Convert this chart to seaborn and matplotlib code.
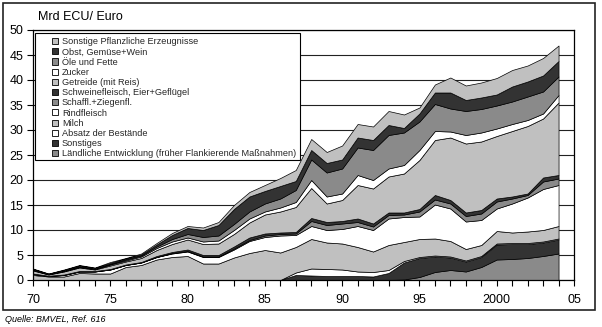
import matplotlib
matplotlib.use("Agg")
import matplotlib.pyplot as plt
import seaborn as sns
from matplotlib.patches import Patch, Rectangle

years = list(range(1970, 2005))

laendliche = [0]*24 + [0.1, 0.6, 1.6, 2.0, 1.7, 2.6, 4.1, 4.2, 4.4, 4.8, 5.3]
sonstiges = [0]*17 + [1.0, 0.9, 0.8, 0.8, 0.8, 0.7, 1.4, 3.4, 3.8, 3.1, 2.5, 2.0, 2.0, 3.0, 3.0, 2.8, 2.7, 2.8]
absatz = [0]*17 + [0.5, 1.4, 1.4, 1.3, 0.9, 0.9, 0.6, 0.3, 0.2, 0.2, 0.2, 0.2, 0.2, 0.2, 0.2, 0.2, 0.2, 0.2]
milch = [1.0, 0.7, 0.7, 1.4, 1.3, 1.3, 2.6, 3.0, 4.1, 4.6, 4.8, 3.3, 3.3, 4.5, 5.4, 6.0, 5.5, 5.1,
         5.9, 5.3, 5.2, 4.9, 4.1, 5.0, 3.8, 3.6, 3.4, 3.1, 2.3, 2.2, 2.5, 2.1, 2.3, 2.3, 2.5]
rindfleisch = [0.2, 0.1, 0.3, 0.3, 0.4, 0.8, 0.4, 0.5, 0.5, 0.7, 0.9, 1.3, 1.3, 1.6, 2.4, 2.6, 3.4, 2.4,
               2.6, 2.5, 2.9, 4.2, 4.3, 5.3, 5.0, 4.5, 6.8, 6.5, 5.5, 5.0, 4.5, 5.8, 6.8, 8.2, 8.2]
schaffl = [0, 0, 0, 0, 0, 0, 0, 0, 0, 0.1, 0.1, 0.1, 0.1, 0.2, 0.2, 0.3, 0.3, 0.3,
           1.0, 1.0, 1.1, 0.8, 0.7, 0.7, 0.5, 1.0, 1.0, 1.0, 1.1, 1.3, 1.4, 1.0, 0.5, 1.5, 1.3]
schwein = [0.1, 0.05, 0.1, 0.1, 0.1, 0.1, 0.1, 0.1, 0.2, 0.2, 0.3, 0.3, 0.3, 0.4, 0.5, 0.4, 0.3, 0.3,
           0.6, 0.6, 0.5, 0.7, 0.6, 0.5, 0.4, 0.5, 0.9, 0.7, 0.7, 0.7, 0.6, 0.4, 0.3, 0.8, 0.7]
getreide = [0.6, 0.25, 0.6, 0.7, 0.3, 0.7, 0.6, 0.8, 1.2, 1.6, 2.0, 2.2, 2.3, 2.5, 3.0, 3.8, 4.2, 5.0,
            6.0, 3.7, 4.2, 6.7, 7.0, 7.2, 7.8, 9.8, 11.0, 12.5, 13.8, 13.7, 12.5, 13.1, 13.5, 11.8, 14.5]
zucker = [0.1, 0.05, 0.1, 0.1, 0.1, 0.2, 0.2, 0.3, 0.4, 0.5, 0.4, 0.5, 0.6, 0.8, 0.8, 0.6, 0.8, 1.0,
          1.6, 1.4, 1.3, 2.0, 1.7, 1.6, 1.7, 2.0, 1.8, 1.2, 1.7, 1.8, 1.5, 1.4, 1.2, 1.0, 1.5]
oele = [0.1, 0.05, 0.1, 0.1, 0.1, 0.1, 0.2, 0.2, 0.3, 0.5, 0.7, 0.9, 1.0, 1.2, 1.4, 1.6, 1.8, 2.4,
        4.1, 4.8, 5.0, 5.5, 6.0, 6.7, 6.5, 5.7, 5.4, 4.6, 4.8, 4.7, 4.6, 4.5, 4.7, 4.4, 3.7]
obst = [0.1, 0.05, 0.1, 0.2, 0.1, 0.2, 0.2, 0.2, 0.4, 0.8, 1.2, 1.4, 2.1, 3.0, 3.0, 2.5, 2.5, 1.8,
        1.9, 1.9, 1.8, 2.0, 2.0, 2.0, 0.9, 1.6, 2.3, 3.2, 2.2, 2.3, 2.2, 3.0, 3.0, 3.2, 3.1]
sonst_pfl = [0.1, 0.05, 0.1, 0.1, 0.1, 0.2, 0.1, 0.2, 0.3, 0.4, 0.4, 0.5, 0.6, 0.8, 0.9, 1.2, 1.6, 2.2,
             2.2, 2.2, 2.8, 2.7, 2.7, 2.8, 2.7, 1.2, 1.6, 3.0, 2.9, 3.0, 3.3, 3.3, 3.2, 3.5, 3.1]

# stacking order (bottom -> top)
series_labels = [
    "Ländliche Entwicklung (früher Flankierende Maßnahmen)",
    "Sonstiges",
    "Absatz der Bestände",
    "Milch",
    "Rindfleisch",
    "Schaffl.+Ziegenfl.",
    "Schweinefleisch, Eier+Geflügel",
    "Getreide (mit Reis)",
    "Zucker",
    "Öle und Fette",
    "Obst, Gemüse+Wein",
    "Sonstige Pflanzliche Erzeugnisse",
]
series_values = [laendliche, sonstiges, absatz, milch, rindfleisch, schaffl, schwein,
                 getreide, zucker, oele, obst, sonst_pfl]

x_tick_values = [1970, 1975, 1980, 1985, 1990, 1995, 2000, 2005]
x_tick_labels = ["70", "75", "80", "85", "90", "95", "2000", "05"]
y_tick_values = list(range(0, 51, 5))

LIGHT, MED, DARK, WHITE = "#c0c0c0", "#8a8a8a", "#333333", "#ffffff"
colors = [MED, DARK, WHITE, LIGHT, WHITE, MED, DARK, LIGHT, WHITE, MED, DARK, LIGHT]

sns.set_theme(style="white")
plt.rcParams["font.family"] = ["Liberation Sans", "DejaVu Sans"]

W, H = 602, 327
fig = plt.figure(figsize=(W / 100, H / 100), dpi=100)
ax = fig.add_axes([33 / W, 1 - 280 / H, 541 / W, 250 / H])

ax.stackplot(years, *series_values, colors=colors, edgecolor="black", linewidth=0.5, zorder=2)

ax.set_xlim(1970, 2005)
ax.set_ylim(0, 50)
ax.set_xticks(x_tick_values)
ax.set_xticklabels(x_tick_labels)
ax.set_xticks(list(range(1970, 2006)), minor=True)
ax.set_yticks(y_tick_values)
ax.tick_params(axis="both", which="both", direction="out", length=4, width=0.8,
               color="black", labelsize=9, labelcolor="black", bottom=True, left=True, pad=3)
ax.tick_params(axis="x", pad=6)
ax.yaxis.grid(True, color="#222222", linewidth=0.8, zorder=0)
ax.set_axisbelow(True)
for s in ax.spines.values():
    s.set_color("black")
    s.set_linewidth(0.9)

# legend
handles = [Patch(facecolor=c, edgecolor="black", linewidth=0.6) for c in colors][::-1]
labels = series_labels[::-1]
fig.patches.append(Rectangle((35 / W, 1 - 160 / H), 265 / W, 127 / H, transform=fig.transFigure,
                             facecolor="white", edgecolor="black", linewidth=0.8, zorder=5))
leg = fig.legend(handles, labels, loc="upper left", bbox_to_anchor=(50 / W, 1 - 35 / H),
                 frameon=False, fontsize=6.6, labelspacing=0.13, handlelength=0.65,
                 handleheight=0.65, handletextpad=0.4, borderpad=0.25, borderaxespad=0)
leg.set_zorder(6)

fig.text(38 / W, 1 - 17 / H, "Mrd ECU/ Euro", fontsize=9, va="center", ha="left", color="black")
fig.text(5 / W, 1 - 319 / H, "Quelle: BMVEL, Ref. 616", fontsize=6.5, style="italic",
         va="center", ha="left", color="black")
fig.patches.append(Rectangle((3 / W, 1 - 310 / H), 592 / W, 307 / H, transform=fig.transFigure,
                             fill=False, edgecolor="#222222", linewidth=1.2))

fig.savefig("out.png", dpi=100)
